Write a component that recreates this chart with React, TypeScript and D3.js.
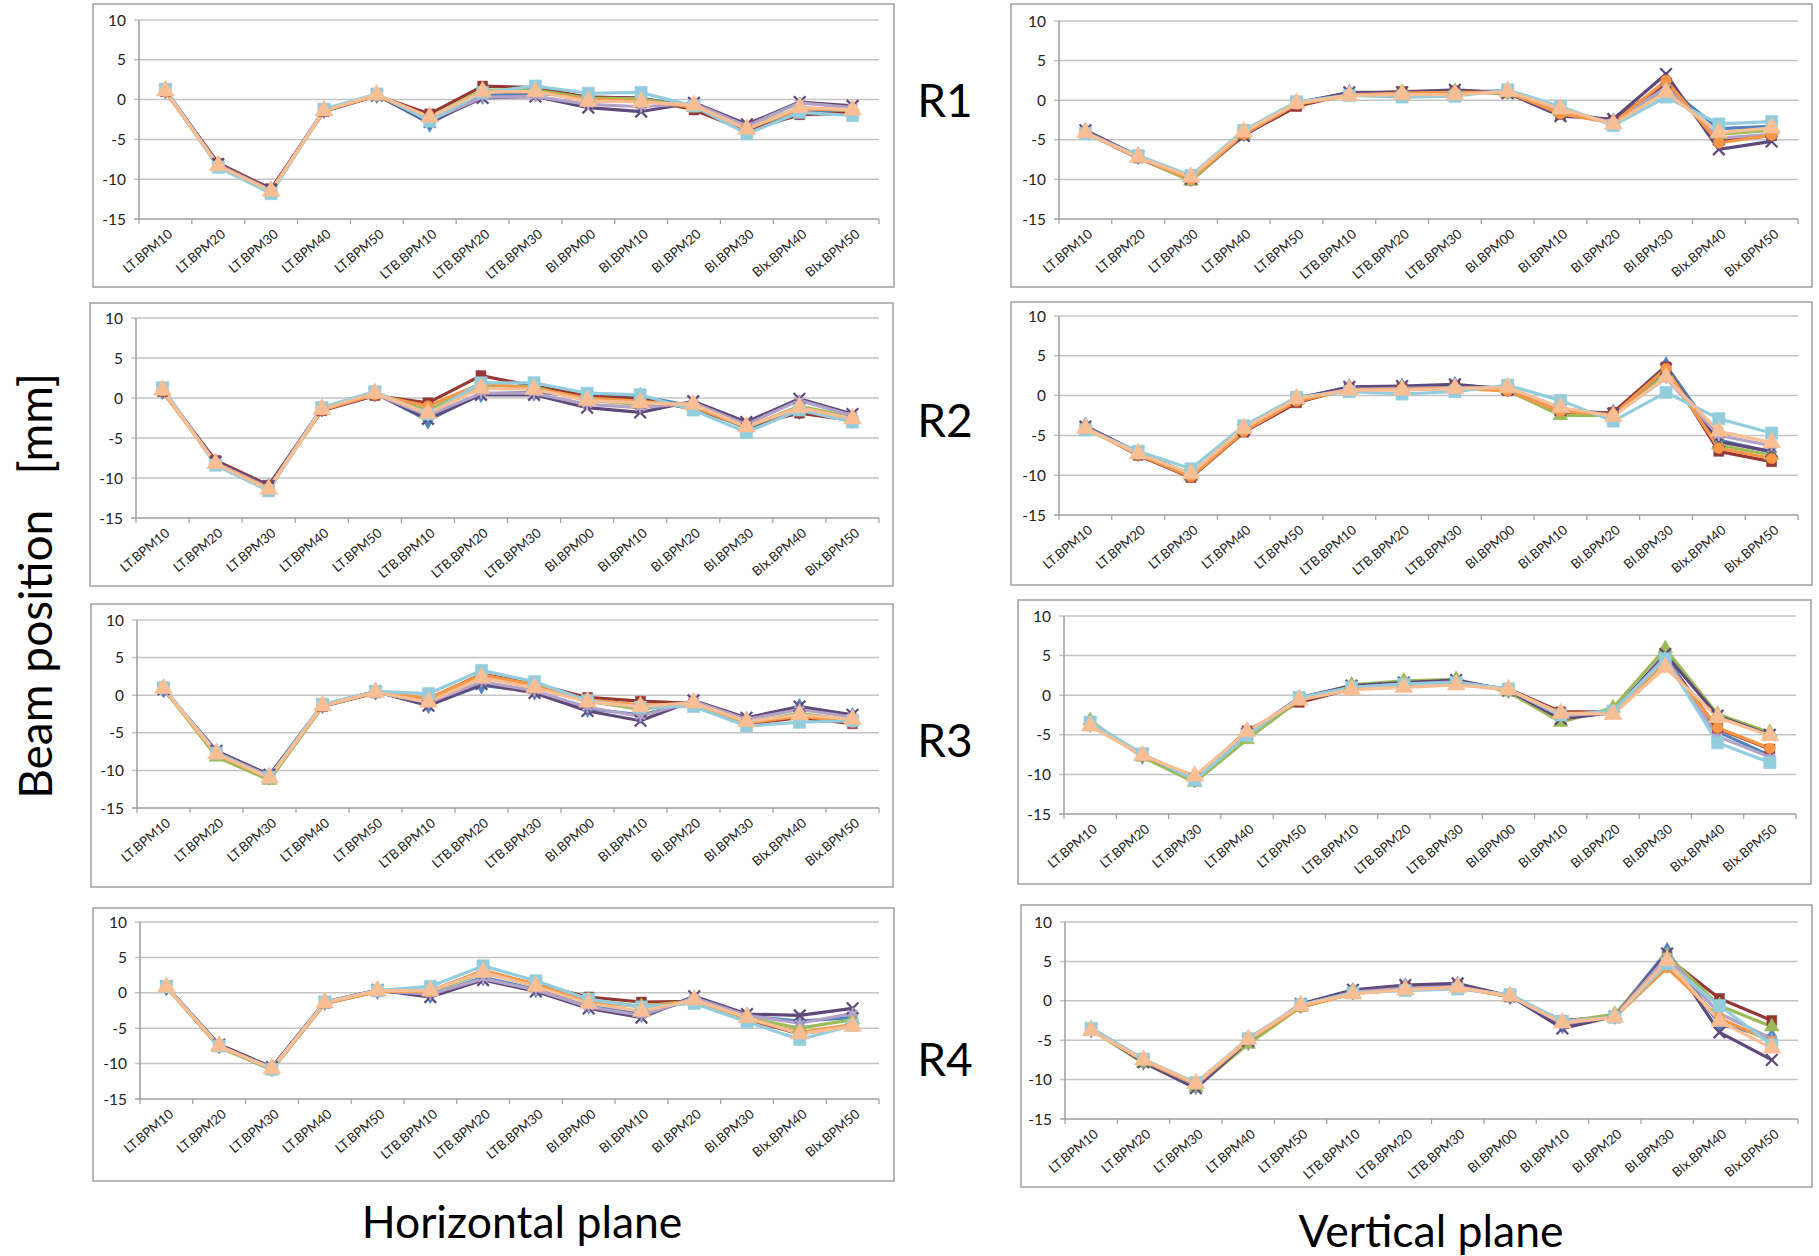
import * as d3 from "d3";

const categories = [
  "LT.BPM10", "LT.BPM20", "LT.BPM30", "LT.BPM40", "LT.BPM50",
  "LTB.BPM10", "LTB.BPM20", "LTB.BPM30",
  "BI.BPM00", "BI.BPM10", "BI.BPM20", "BI.BPM30",
  "BIx.BPM40", "BIx.BPM50",
];
const yTicks = [10, 5, 0, -5, -10, -15];
const gridTicks = [10, 5, 0, -5, -10];
const rowLabels = ["R1", "R2", "R3", "R4"];

// R1 horizontal
const r1hBlue = [1.2, -8.2, -11.4, -1.3, 0.6, -3.0, 0.5, 0.8, 0.3, 0.2, -0.9, -3.8, -1.4, -1.6];
const r1hRed = [1.0, -8.0, -11.2, -1.5, 0.5, -1.8, 1.7, 1.5, 0.3, 0.2, -1.3, -3.9, -1.9, -1.7];
const r1hGreen = [1.1, -8.4, -11.6, -1.4, 0.6, -2.2, 1.2, 1.2, 0.2, 0.1, -1.0, -3.6, -1.0, -1.4];
const r1hPurple = [1.2, -8.1, -11.3, -1.3, 0.5, -2.8, 0.2, 0.4, -1.0, -1.5, -0.4, -3.1, -0.3, -0.8];
const r1hLilac = [1.1, -8.2, -11.4, -1.3, 0.6, -2.6, 0.3, 0.4, -0.6, -0.9, -0.5, -3.3, -0.4, -1.0];
const r1hOrange = [1.0, -8.3, -11.5, -1.4, 0.5, -2.3, 1.0, 1.0, 0.0, -0.2, -0.9, -3.7, -1.2, -1.3];
const r1hAqua = [1.3, -8.5, -11.8, -1.2, 0.7, -2.7, 0.9, 1.7, 0.8, 0.9, -0.8, -4.3, -1.6, -2.0];
const r1hPeach = [1.1, -8.3, -11.5, -1.4, 0.6, -2.2, 1.0, 1.0, -0.2, -0.3, -0.7, -3.7, -1.0, -1.3];

// R1 vertical
const r1vBlue = [-3.9, -7.0, -9.8, -4.1, -0.3, 0.9, 0.9, 1.0, 1.2, -1.3, -2.7, 1.8, -3.6, -3.3];
const r1vRed = [-4.1, -7.3, -10.1, -4.4, -0.8, 0.8, 1.1, 1.2, 1.0, -1.8, -2.6, 2.2, -5.0, -4.5];
const r1vGreen = [-4.0, -7.2, -10.2, -4.3, -0.5, 0.7, 1.0, 1.1, 0.8, -1.5, -2.8, 1.2, -4.3, -3.8];
const r1vPurple = [-3.8, -7.1, -9.9, -4.5, -0.4, 1.0, 1.0, 1.3, 0.9, -2.0, -2.4, 3.3, -6.2, -5.2];
const r1vLilac = [-4.0, -7.1, -9.8, -4.2, -0.4, 0.7, 0.8, 0.9, 1.0, -1.4, -2.8, 1.6, -4.8, -4.3];
const r1vOrange = [-4.1, -7.2, -10.0, -4.3, -0.5, 0.6, 0.9, 1.0, 1.0, -1.7, -2.9, 2.5, -5.4, -4.4];
const r1vAqua = [-4.2, -7.0, -9.5, -3.8, -0.2, 0.6, 0.4, 0.5, 1.3, -0.8, -3.2, 0.4, -3.0, -2.7];
const r1vPeach = [-4.1, -7.2, -9.7, -4.0, -0.4, 0.6, 0.7, 0.7, 1.1, -1.1, -3.0, 1.0, -4.1, -3.5];

// R2 horizontal
const r2hBlue = [0.9, -8.0, -11.1, -1.3, 0.6, -2.8, 0.5, 0.7, 0.2, 0.2, -1.0, -3.8, -1.6, -2.7];
const r2hRed = [0.8, -7.8, -10.9, -1.6, 0.3, -0.6, 2.8, 1.5, 0.3, -0.1, -1.4, -3.5, -1.9, -2.8];
const r2hGreen = [1.0, -8.3, -11.4, -1.5, 0.5, -1.5, 1.6, 1.4, -0.3, -0.8, -1.0, -3.7, -1.0, -2.4];
const r2hPurple = [1.1, -8.0, -11.0, -1.3, 0.6, -2.6, 0.4, 0.4, -1.2, -1.8, -0.4, -3.0, -0.1, -2.0];
const r2hLilac = [1.0, -8.1, -11.2, -1.3, 0.5, -2.2, 0.6, 0.6, -0.8, -1.2, -0.6, -3.3, -0.3, -2.2];
const r2hOrange = [0.9, -8.2, -11.3, -1.5, 0.4, -1.0, 1.8, 1.2, 0.0, -0.4, -1.1, -3.6, -1.2, -2.6];
const r2hAqua = [1.3, -8.4, -11.6, -1.2, 0.8, -2.0, 1.9, 1.9, 0.6, 0.4, -1.5, -4.3, -1.5, -3.0];
const r2hPeach = [1.0, -8.2, -11.4, -1.4, 0.6, -1.9, 1.2, 1.1, -0.3, -0.6, -0.8, -3.6, -1.2, -2.6];

// R2 vertical
const r2vBlue = [-3.8, -7.2, -9.9, -4.1, -0.3, 1.0, 1.1, 1.3, 0.9, -1.9, -2.2, 3.8, -5.6, -7.1];
const r2vRed = [-4.0, -7.5, -10.3, -4.6, -0.9, 0.9, 1.0, 1.2, 0.6, -2.3, -2.1, 3.6, -7.0, -8.3];
const r2vGreen = [-4.1, -7.3, -10.1, -4.4, -0.6, 0.8, 0.9, 1.0, 0.7, -2.5, -2.5, 2.8, -6.2, -7.5];
const r2vPurple = [-3.9, -7.1, -9.9, -4.3, -0.4, 1.1, 1.2, 1.4, 0.8, -1.8, -2.3, 3.3, -5.8, -7.0];
const r2vLilac = [-4.0, -7.2, -9.9, -4.2, -0.4, 0.8, 0.9, 1.0, 0.9, -1.6, -2.5, 2.2, -5.0, -6.3];
const r2vOrange = [-4.1, -7.4, -10.2, -4.5, -0.7, 0.7, 0.8, 0.9, 0.6, -2.0, -2.4, 3.4, -6.6, -7.9];
const r2vAqua = [-4.3, -7.0, -9.2, -3.8, -0.2, 0.5, 0.2, 0.5, 1.3, -0.6, -3.2, 0.4, -2.9, -4.7];
const r2vPeach = [-4.1, -7.3, -9.8, -4.1, -0.4, 0.7, 0.7, 0.9, 1.0, -1.5, -2.6, 2.3, -4.5, -5.9];

// R3 horizontal
const r3hBlue = [0.8, -7.6, -10.8, -1.3, 0.5, -1.3, 1.3, 0.5, -1.8, -2.6, -1.0, -3.3, -1.6, -2.8];
const r3hRed = [1.0, -7.9, -11.1, -1.5, 0.3, -0.5, 2.8, 1.5, -0.3, -0.8, -1.1, -3.8, -3.0, -3.8];
const r3hGreen = [0.9, -8.2, -11.3, -1.5, 0.4, -0.8, 2.4, 1.2, -0.8, -1.9, -1.0, -3.6, -2.4, -3.3];
const r3hPurple = [0.8, -7.4, -10.6, -1.3, 0.5, -1.4, 1.5, 0.3, -2.1, -3.4, -0.7, -3.0, -1.5, -2.6];
const r3hLilac = [0.9, -7.6, -10.8, -1.4, 0.4, -1.0, 1.8, 0.6, -1.6, -2.8, -0.8, -3.2, -1.9, -2.9];
const r3hOrange = [0.9, -7.9, -11.0, -1.4, 0.4, -0.4, 2.7, 1.4, -0.6, -1.3, -1.2, -3.7, -2.8, -3.6];
const r3hAqua = [1.0, -7.7, -10.9, -1.2, 0.5, 0.2, 3.3, 1.8, -0.7, -1.6, -1.5, -4.1, -3.6, -3.4];
const r3hPeach = [0.9, -7.8, -11.0, -1.4, 0.4, -0.9, 2.3, 1.0, -0.9, -1.5, -1.0, -3.5, -2.6, -3.2];

// R3 vertical
const r3vBlue = [-3.6, -7.6, -10.6, -5.0, -0.4, 1.1, 1.5, 1.8, 0.7, -2.8, -2.0, 5.0, -4.6, -7.6];
const r3vRed = [-3.7, -7.5, -10.5, -4.5, -0.9, 0.8, 1.2, 1.4, 0.8, -2.1, -2.1, 4.6, -4.2, -6.8];
const r3vGreen = [-3.2, -7.8, -11.0, -5.6, -0.6, 1.3, 1.8, 2.0, 0.4, -3.4, -1.6, 5.9, -2.4, -4.7];
const r3vPurple = [-3.5, -7.5, -10.6, -4.9, -0.3, 1.2, 1.6, 1.9, 0.6, -3.0, -2.2, 5.2, -2.6, -5.0];
const r3vLilac = [-3.6, -7.5, -10.5, -4.8, -0.5, 1.0, 1.4, 1.7, 0.7, -2.6, -2.1, 4.8, -5.2, -7.8];
const r3vOrange = [-3.8, -7.6, -10.4, -4.7, -0.6, 0.9, 1.2, 1.4, 0.7, -2.3, -2.2, 4.2, -4.1, -6.7];
const r3vAqua = [-3.4, -7.4, -10.7, -5.1, -0.3, 1.0, 1.4, 1.6, 0.8, -2.5, -2.0, 4.6, -6.0, -8.5];
const r3vPeach = [-3.9, -7.6, -10.2, -4.6, -0.6, 0.7, 1.0, 1.3, 0.7, -2.3, -2.4, 3.5, -2.8, -5.1];

// R4 horizontal
const r4hBlue = [0.8, -7.4, -10.6, -1.3, 0.3, -0.3, 2.2, 0.5, -1.8, -3.0, -1.0, -3.3, -4.0, -3.5];
const r4hRed = [0.9, -7.6, -10.8, -1.5, 0.2, 0.3, 3.0, 1.2, -0.6, -1.3, -1.2, -3.8, -5.8, -4.6];
const r4hGreen = [0.8, -7.7, -10.9, -1.5, 0.2, 0.1, 2.8, 1.0, -1.0, -1.9, -1.1, -3.5, -5.0, -3.8];
const r4hPurple = [0.9, -7.3, -10.5, -1.3, 0.4, -0.6, 1.8, 0.2, -2.2, -3.5, -0.5, -3.0, -3.2, -2.2];
const r4hLilac = [0.8, -7.5, -10.7, -1.4, 0.3, -0.2, 2.0, 0.4, -2.0, -3.2, -0.7, -3.2, -4.3, -2.9];
const r4hOrange = [0.8, -7.6, -10.8, -1.5, 0.2, 0.2, 3.2, 1.2, -1.2, -2.0, -1.2, -3.7, -5.6, -4.5];
const r4hAqua = [0.9, -7.5, -10.8, -1.3, 0.3, 0.9, 3.8, 1.7, -0.9, -2.0, -1.5, -4.1, -6.6, -4.6];
const r4hPeach = [0.8, -7.5, -10.7, -1.4, 0.3, 0.3, 2.9, 0.9, -1.5, -2.6, -1.0, -3.5, -5.8, -4.7];

// R4 vertical
const r4vBlue = [-3.6, -7.7, -10.8, -5.2, -0.5, 1.2, 1.8, 2.0, 0.6, -3.1, -1.9, 6.3, -3.0, -4.6];
const r4vRed = [-3.5, -7.5, -10.6, -4.8, -0.7, 1.1, 1.7, 1.9, 0.5, -2.5, -2.0, 5.5, 0.3, -2.5];
const r4vGreen = [-3.7, -7.9, -11.0, -5.5, -0.8, 1.0, 1.5, 1.7, 0.5, -2.7, -1.7, 5.8, -0.6, -3.3];
const r4vPurple = [-3.6, -7.8, -11.1, -5.1, -0.4, 1.4, 2.0, 2.2, 0.6, -3.5, -2.0, 6.0, -4.0, -7.5];
const r4vLilac = [-3.6, -7.6, -10.7, -5.0, -0.6, 1.1, 1.6, 1.8, 0.6, -2.9, -2.0, 5.6, -1.6, -4.8];
const r4vOrange = [-3.7, -7.6, -10.6, -5.0, -0.8, 0.9, 1.4, 1.6, 0.6, -2.6, -2.1, 4.2, -2.2, -5.2];
const r4vAqua = [-3.5, -7.4, -10.4, -4.8, -0.5, 1.0, 1.3, 1.5, 0.8, -2.6, -2.1, 4.7, -0.6, -5.6];
const r4vPeach = [-3.8, -7.5, -10.5, -4.9, -0.6, 0.9, 1.4, 1.7, 0.6, -2.8, -2.1, 5.1, -2.6, -6.0];

const seriesStyle = [
  { color: "#4F81BD", marker: "diamond" },
  { color: "#953735", marker: "square" },
  { color: "#9BBB59", marker: "triangle" },
  { color: "#5F497A", marker: "x" },
  { color: "#B3A2C7", marker: "star" },
  { color: "#F79646", marker: "circle" },
  { color: "#93CDDD", marker: "square" },
  { color: "#F9BE94", marker: "triangle" },
];

const panels = [
  { data: [r1hBlue, r1hRed, r1hGreen, r1hPurple, r1hLilac, r1hOrange, r1hAqua, r1hPeach],
    box: [93, 4, 801, 283], plot: [139, 879, 20, 219] },
  { data: [r1vBlue, r1vRed, r1vGreen, r1vPurple, r1vLilac, r1vOrange, r1vAqua, r1vPeach],
    box: [1011, 4, 801, 283], plot: [1059, 1798, 21, 219] },
  { data: [r2hBlue, r2hRed, r2hGreen, r2hPurple, r2hLilac, r2hOrange, r2hAqua, r2hPeach],
    box: [90, 303, 803, 283], plot: [136, 879, 318, 518] },
  { data: [r2vBlue, r2vRed, r2vGreen, r2vPurple, r2vLilac, r2vOrange, r2vAqua, r2vPeach],
    box: [1011, 302, 801, 283], plot: [1059, 1798, 316, 515] },
  { data: [r3hBlue, r3hRed, r3hGreen, r3hPurple, r3hLilac, r3hOrange, r3hAqua, r3hPeach],
    box: [91, 604, 802, 283], plot: [137, 879, 620, 808] },
  { data: [r3vBlue, r3vRed, r3vGreen, r3vPurple, r3vLilac, r3vOrange, r3vAqua, r3vPeach],
    box: [1018, 600, 793, 284], plot: [1064, 1796, 616, 814] },
  { data: [r4hBlue, r4hRed, r4hGreen, r4hPurple, r4hLilac, r4hOrange, r4hAqua, r4hPeach],
    box: [93, 908, 801, 273], plot: [140, 879, 922, 1099] },
  { data: [r4vBlue, r4vRed, r4vGreen, r4vPurple, r4vLilac, r4vOrange, r4vAqua, r4vPeach],
    box: [1021, 905, 791, 282], plot: [1065, 1798, 922, 1119] },
];

const rowLabelY = [100, 420, 740, 1059];
const FONT = "Lato, 'Open Sans', sans-serif";

const symbolTypes = {
  diamond: d3.symbolDiamond,
  square: d3.symbolSquare,
  triangle: d3.symbolTriangle,
  x: d3.symbolTimes,
  star: d3.symbolAsterisk,
  circle: d3.symbolCircle,
};

function Panel({ panel }) {
  const [bx, by, bw, bh] = panel.box;
  const [left, right, top, bottom] = panel.plot;
  const x = d3.scaleBand().domain(categories).range([left, right]).paddingInner(0).paddingOuter(0);
  const y = d3.scaleLinear().domain([-15, 10]).range([bottom, top]);
  const cx = (c) => x(c) + x.bandwidth() / 2;
  const line = d3.line().x((d, i) => cx(categories[i])).y((d) => y(d));

  return (
    <g>
      <rect x={bx} y={by} width={bw} height={bh} fill="#fff" stroke="#A6A6A6" strokeWidth={1.6} />
      {gridTicks.map((t) => (
        <line key={t} x1={left - 5} x2={right} y1={y(t)} y2={y(t)} stroke="#C4C4C4" strokeWidth={1.5} />
      ))}
      <line x1={left - 5} x2={right} y1={y(-15)} y2={y(-15)} stroke="#9E9E9E" strokeWidth={1.5} />
      <line x1={left} x2={left} y1={top} y2={bottom} stroke="#9E9E9E" strokeWidth={1.5} />
      {categories.map((c) => (
        <line key={c} x1={x(c)} x2={x(c)} y1={bottom} y2={bottom + 5} stroke="#9E9E9E" strokeWidth={1.2} />
      ))}
      <line x1={right} x2={right} y1={bottom} y2={bottom + 5} stroke="#9E9E9E" strokeWidth={1.2} />
      {yTicks.map((t) => (
        <text key={t} x={left - 13} y={y(t)} dy="0.36em" textAnchor="end" fontSize={15.5} fill="#222" fontFamily={FONT}>
          {t}
        </text>
      ))}
      {categories.map((c) => (
        <text
          key={c}
          transform={`translate(${cx(c) + 5},${bottom + 13}) rotate(-40)`}
          dy="0.35em"
          textAnchor="end"
          fontSize={13.2}
          fill="#222"
          fontFamily={FONT}
        >
          {c}
        </text>
      ))}
      {panel.data.map((vals, si) => (
        <path key={si} d={line(vals)} fill="none" stroke={seriesStyle[si].color} strokeWidth={3.2} strokeLinejoin="round" />
      ))}
      {panel.data.map((vals, si) => {
        const st = seriesStyle[si];
        const stroked = st.marker === "x" || st.marker === "star";
        const size = st.marker === "square" ? (si === 6 ? 150 : 100) : st.marker === "triangle" ? (si === 7 ? 140 : 95) : 90;
        const p = d3.symbol().type(symbolTypes[st.marker]).size(size)();
        return (
          <g key={"m" + si}>
            {vals.map((v, i) => (
              <path
                key={i}
                d={p}
                transform={`translate(${cx(categories[i])},${y(v)})`}
                fill={stroked ? "none" : st.color}
                stroke={st.color}
                strokeWidth={stroked ? 2.2 : 0.5}
              />
            ))}
          </g>
        );
      })}
    </g>
  );
}

export default function App() {
  return (
    <svg
      width={1819}
      height={1256}
      style={{ position: "absolute", left: 0, top: 0, background: "#fff" }}
    >
      <rect width={1819} height={1256} fill="#fff" />
      {panels.map((p, i) => (
        <Panel key={i} panel={p} />
      ))}
      {rowLabels.map((r, i) => (
        <text key={r} x={945} y={rowLabelY[i]} dy="0.36em" textAnchor="middle" fontSize={46} fill="#000" fontFamily={FONT}>
          {r}
        </text>
      ))}
      <text
        transform="translate(35,586) rotate(-90)"
        dy="0.36em"
        textAnchor="middle"
        fontSize={46}
        fill="#000"
        fontFamily={FONT}
        style={{ whiteSpace: "pre" }}
      >
        {"Beam position   [mm]"}
      </text>
      <text x={522} y={1238} textAnchor="middle" fontSize={44.5} fill="#000" fontFamily={FONT}>
        Horizontal plane
      </text>
      <text x={1431} y={1247} textAnchor="middle" fontSize={44.5} fill="#000" fontFamily={FONT}>
        Vertical plane
      </text>
    </svg>
  );
}
